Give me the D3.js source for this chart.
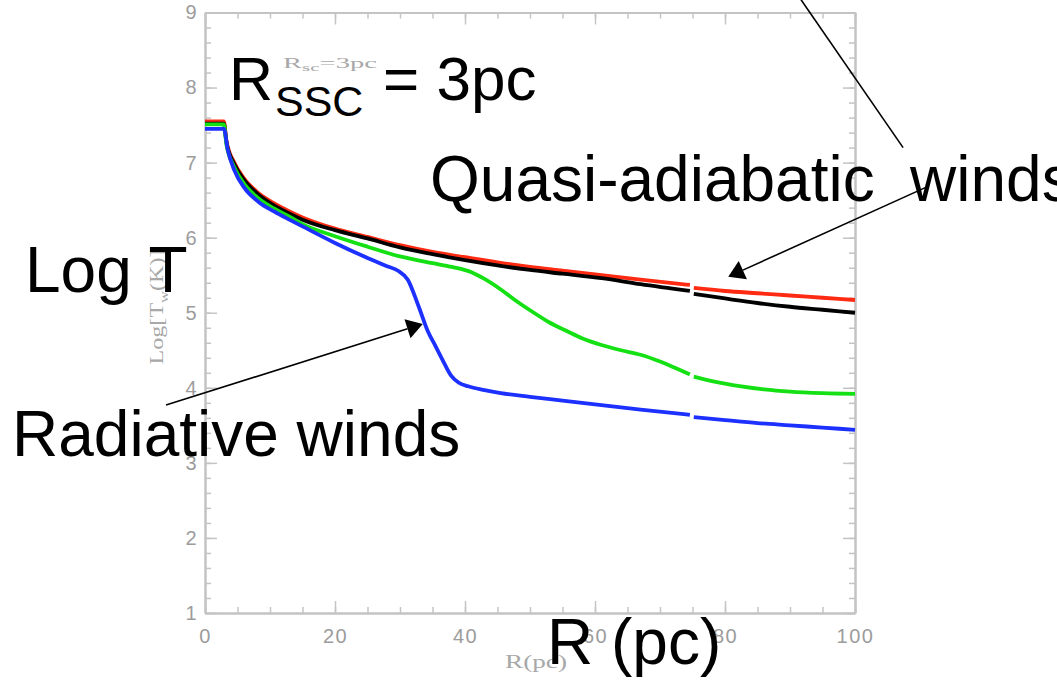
<!DOCTYPE html>
<html>
<head>
<meta charset="utf-8">
<script src="https://cdn.jsdelivr.net/npm/d3@7"></script>
<style>
  html, body { margin: 0; padding: 0; background: #fff; }
  svg { display: block; }
</style>
</head>
<body>
<svg id="chart" width="1057" height="681"></svg>
<script>
// Wind temperature profiles: [R (pc), log T_w (K)]; null marks the break in each run.
const redWind = [[0,7.55],[2.9,7.55],[3.3,7.29],[4.5,7.0],[6,6.79],[8,6.61],[10.6,6.46],[13,6.35],[15,6.27],[20,6.12],[25,6.01],[30,5.9],[35,5.81],[40,5.74],[45,5.67],[50,5.61],[55,5.56],[61,5.5],[67,5.44],[74.6,5.37],null,[75.2,5.33],[80,5.29],[85,5.26],[90,5.23],[95,5.2],[100,5.17]];
const blackWind = [[0,7.52],[2.9,7.52],[3.3,7.27],[4.5,6.98],[6,6.77],[8,6.59],[10.6,6.43],[13,6.32],[15,6.24],[20,6.1],[25,5.99],[30,5.87],[35,5.78],[40,5.7],[45,5.63],[50,5.57],[55,5.52],[61,5.46],[67,5.38],[74.6,5.29],null,[75.2,5.25],[80,5.19],[85,5.13],[90,5.08],[95,5.04],[100,5.0]];
const greenWind = [[0,7.51],[2.9,7.51],[3.3,7.24],[4.5,6.94],[6,6.72],[8,6.54],[10.6,6.39],[13,6.28],[15,6.18],[20,6.02],[25,5.88],[30,5.75],[35,5.66],[38,5.61],[41,5.54],[43,5.45],[45.5,5.31],[48,5.15],[50.6,5.0],[53,4.87],[55.8,4.75],[58,4.66],[61,4.57],[64,4.5],[67,4.44],[70,4.35],[72.2,4.27],[74.6,4.18],null,[75.2,4.15],[78,4.09],[82.5,4.02],[86,3.98],[90,3.95],[95,3.93],[100,3.92]];
const blueWind = [[0,7.45],[2.9,7.45],[3.5,7.17],[4.5,6.9],[6,6.67],[8.2,6.48],[10.6,6.35],[13.2,6.23],[15,6.15],[20,5.93],[25,5.73],[28,5.62],[29.7,5.56],[31.2,5.44],[32.8,5.1],[34.3,4.75],[35.5,4.55],[36.5,4.38],[37.8,4.17],[39,4.07],[40.5,4.02],[43,3.97],[45.5,3.93],[50,3.88],[55,3.83],[61,3.77],[67,3.71],[74.6,3.64],null,[75.2,3.61],[80,3.57],[85,3.53],[90,3.5],[95,3.47],[100,3.44]];

const xMajorTicks = [0, 20, 40, 60, 80, 100];
const xMinorTicks = d3.range(0, 101, 5);
const yMajorTicks = [1, 2, 3, 4, 5, 6, 7, 8, 9];
const yMinorTicks = d3.range(10, 91, 2).map(v => v / 10);

// Annotation pointers in data units: [from, to]
const quasiArrow = [[110.9, 6.67], [80.5, 5.48]];
const radiativeArrow = [[-6, 3.77], [33.5, 4.85]];
const topPointer = [[91.7, 9.17], [107.4, 7.2]];

const svg = d3.select("#chart");
const x = d3.scaleLinear().domain([0, 100]).range([205, 855]);
const y = d3.scaleLinear().domain([1, 9]).range([613, 12.5]);

const axisColor = "#c4c4c4";
const tickFont = "'Liberation Sans', Arial, sans-serif";

function styleAxis(g, showLabels) {
  g.select(".domain").attr("stroke", axisColor).attr("stroke-width", 2);
  g.selectAll(".tick line").attr("stroke", axisColor).attr("stroke-width", 1.5);
  g.selectAll(".tick text")
    .attr("fill", "#9c9c9c")
    .style("font-family", tickFont)
    .style("font-size", "20px")
    .style("letter-spacing", "1.5px")
    .style("display", showLabels ? null : "none");
}

// minor ticks on all four sides
svg.append("g").attr("transform", `translate(0,${y(1)})`)
  .call(d3.axisBottom(x).tickValues(xMinorTicks).tickSize(-6).tickSizeOuter(0).tickFormat(""))
  .call(g => styleAxis(g, false));
svg.append("g").attr("transform", `translate(0,${y(9)})`)
  .call(d3.axisTop(x).tickValues(xMinorTicks).tickSize(-6).tickSizeOuter(0).tickFormat(""))
  .call(g => styleAxis(g, false));
svg.append("g").attr("transform", `translate(${x(0)},0)`)
  .call(d3.axisLeft(y).tickValues(yMinorTicks).tickSize(-6).tickSizeOuter(0).tickFormat(""))
  .call(g => styleAxis(g, false));
svg.append("g").attr("transform", `translate(${x(100)},0)`)
  .call(d3.axisRight(y).tickValues(yMinorTicks).tickSize(-6).tickSizeOuter(0).tickFormat(""))
  .call(g => styleAxis(g, false));

// major ticks
svg.append("g").attr("transform", `translate(0,${y(1)})`)
  .call(d3.axisBottom(x).tickValues(xMajorTicks).tickSize(-12).tickSizeOuter(0).tickPadding(16).tickFormat(d3.format("d")))
  .call(g => styleAxis(g, true));
svg.append("g").attr("transform", `translate(0,${y(9)})`)
  .call(d3.axisTop(x).tickValues(xMajorTicks).tickSize(-12).tickSizeOuter(0).tickFormat(""))
  .call(g => styleAxis(g, false));
svg.append("g").attr("transform", `translate(${x(0)},0)`)
  .call(d3.axisLeft(y).tickValues(yMajorTicks).tickSize(-12).tickSizeOuter(0).tickPadding(7).tickFormat(d3.format("d")))
  .call(g => styleAxis(g, true));
svg.append("g").attr("transform", `translate(${x(100)},0)`)
  .call(d3.axisRight(y).tickValues(yMajorTicks).tickSize(-12).tickSizeOuter(0).tickFormat(""))
  .call(g => styleAxis(g, false));

// small axis titles
const serif = "'Liberation Serif', 'DejaVu Serif', serif";
const yTitle = svg.append("text")
  .attr("transform", "translate(163,307) rotate(-90)")
  .attr("text-anchor", "middle")
  .attr("fill", "#a8a8a8")
  .style("font-family", serif)
  .style("font-size", "19px")
  .attr("textLength", 115)
  .attr("lengthAdjust", "spacingAndGlyphs");
yTitle.append("tspan").text("Log[T");
yTitle.append("tspan").attr("dy", 5).style("font-size", "13px").text("w");
yTitle.append("tspan").attr("dy", -5).text("(K)]");

svg.append("text")
  .attr("x", 536).attr("y", 668)
  .attr("text-anchor", "middle")
  .attr("fill", "#a8a8a8")
  .style("font-family", serif)
  .style("font-size", "19px")
  .attr("textLength", 62)
  .attr("lengthAdjust", "spacingAndGlyphs")
  .text("R(pc)");

// temperature curves
const line = d3.line()
  .defined(d => d !== null)
  .x(d => x(d[0]))
  .y(d => y(d[1]))
  .curve(d3.curveMonotoneX);

const series = [
  { data: redWind, color: "#ff2a12" },
  { data: blackWind, color: "#000000" },
  { data: greenWind, color: "#14e014" },
  { data: blueWind, color: "#1c30ff" }
];
svg.append("g").selectAll("path")
  .data(series)
  .join("path")
  .attr("d", d => line(d.data))
  .attr("fill", "none")
  .attr("stroke", d => d.color)
  .attr("stroke-width", 3.8)
  .attr("stroke-linejoin", "round");

// small in-plot note
const note = svg.append("text")
  .attr("x", 283).attr("y", 68)
  .attr("fill", "#a8a8a8")
  .style("font-family", serif)
  .style("font-size", "15px")
  .attr("textLength", 94)
  .attr("lengthAdjust", "spacingAndGlyphs");
note.append("tspan").text("R");
note.append("tspan").attr("dy", 3).style("font-size", "11px").text("sc");
note.append("tspan").attr("dy", -3).text("=3pc");

// pointers
function pointer(p, head) {
  const x0 = x(p[0][0]), y0 = y(p[0][1]), x1 = x(p[1][0]), y1 = y(p[1][1]);
  const g = svg.append("g");
  if (!head) {
    g.append("line").attr("x1", x0).attr("y1", y0).attr("x2", x1).attr("y2", y1)
      .attr("stroke", "#000").attr("stroke-width", 1.6);
    return;
  }
  const len = 16, half = 10;
  const ang = Math.atan2(y1 - y0, x1 - x0);
  const bx = x1 - len * Math.cos(ang), by = y1 - len * Math.sin(ang);
  g.append("line").attr("x1", x0).attr("y1", y0).attr("x2", bx).attr("y2", by)
    .attr("stroke", "#000").attr("stroke-width", 1.6);
  const nx = -Math.sin(ang) * half, ny = Math.cos(ang) * half;
  g.append("path")
    .attr("d", `M${x1},${y1}L${bx + nx},${by + ny}L${bx - nx},${by - ny}Z`)
    .attr("fill", "#000");
}
pointer(topPointer, false);
pointer(quasiArrow, true);
pointer(radiativeArrow, true);

// large labels
const sans = "'Liberation Sans', Arial, Helvetica, sans-serif";
function bigText(tx, ty, size, str) {
  return svg.append("text")
    .attr("x", tx).attr("y", ty)
    .attr("fill", "#000")
    .style("font-family", sans)
    .style("font-size", size + "px")
    .text(str);
}
bigText(25, 292, 64, "Log T");
bigText(12, 456, 64, "Radiative winds");
bigText(547, 664, 64, "R (pc)");
bigText(229, 100, 61, "R");
bigText(275, 116, 43, "SSC");
bigText(383, 100, 62, "= 3pc");
const quasi = bigText(430, 201, 64, "Quasi-adiabatic");
quasi.append("tspan").attr("x", 910).text("winds");
</script>
</body>
</html>
